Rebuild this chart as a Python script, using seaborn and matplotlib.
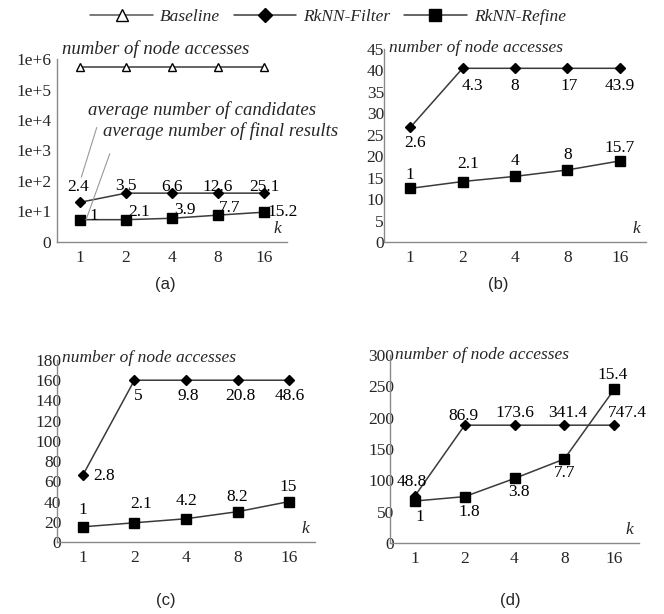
"""Four-panel RkNN query cost chart (node accesses vs k)"""
import matplotlib
matplotlib.use("Agg")
import matplotlib.pyplot as plt
import seaborn as sns
from matplotlib.lines import Line2D
from matplotlib.ticker import FixedLocator, FixedFormatter, NullFormatter

# data
k_labels = ["1", "2", "4", "8", "16"]

a_baseline = [5.5e5, 5.5e5, 5.5e5, 5.5e5, 5.5e5]
a_filter = [20, 40, 40, 40, 40]
a_refine = [5.4, 5.4, 6.0, 7.6, 9.5]
a_filter_lbl = ["2.4", "3.5", "6.6", "12.6", "25.1"]
a_refine_lbl = ["1", "2.1", "3.9", "7.7", "15.2"]

b_filter = [26.7, 40.5, 40.5, 40.5, 40.5]
b_refine = [12.5, 14.1, 15.3, 16.8, 18.9]
b_filter_lbl = ["2.6", "4.3", "8", "17", "43.9"]
b_refine_lbl = ["1", "2.1", "4", "8", "15.7"]

c_filter = [66, 160, 160, 160, 160]
c_refine = [15, 19, 23, 30, 40]
c_filter_lbl = ["2.8", "5", "9.8", "20.8", "48.6"]
c_refine_lbl = ["1", "2.1", "4.2", "8.2", "15"]

d_filter = [75, 188, 188, 188, 188]
d_refine = [67, 74, 103, 134, 245]
d_filter_lbl = ["48.8", "86.9", "173.6", "341.4", "747.4"]
d_refine_lbl = ["1", "1.8", "3.8", "7.7", "15.4"]

SERIF = "Liberation Serif"
LINE = "#3a3a3a"
SPINE = "#8a8a8a"

sns.set_theme(style="white")
plt.rcParams["font.family"] = [SERIF, "DejaVu Serif"]

fig = plt.figure(figsize=(6.64, 6.14), dpi=100)
W, H = 664, 614


def add_axes(left, top, right, bottom):
    return fig.add_axes([left / W, 1 - bottom / H, (right - left) / W, (bottom - top) / H])


ax_a = add_axes(57, 59, 287, 242)
ax_b = add_axes(384, 49, 646, 242)
ax_c = add_axes(57, 360, 315, 542)
ax_d = add_axes(390, 355, 639, 543)


def draw(ax, y, marker, ms, face="black"):
    sns.pointplot(x=k_labels, y=y, ax=ax, color=LINE, markers=marker,
                  linestyles="-", errorbar=None, markersize=ms,
                  linewidth=1.1, markerfacecolor=face, markeredgecolor="black",
                  markeredgewidth=1.0)


def style(ax, yticks, ylabels, ylim, ypad):
    ax.set_ylim(*ylim)
    ax.yaxis.set_major_locator(FixedLocator(yticks))
    ax.yaxis.set_major_formatter(FixedFormatter(ylabels))
    ax.yaxis.set_minor_formatter(NullFormatter())
    ax.set_xlim(-0.5, 4.5)
    ax.set_xticks(range(5))
    ax.set_xticklabels(k_labels)
    ax.set_xticks([0.5, 1.5, 2.5, 3.5, 4.5], minor=True)
    ax.tick_params(axis="x", which="major", length=0, pad=6, labelsize=12.5)
    ax.tick_params(axis="x", which="minor", length=4, color=SPINE, direction="out")
    ax.tick_params(axis="y", which="major", length=4, color=SPINE, direction="out",
                   pad=ypad, labelsize=12.5)
    ax.tick_params(axis="y", which="minor", length=0)
    ax.set_xlabel("")
    ax.set_ylabel("")
    for s in ["top", "right"]:
        ax.spines[s].set_visible(False)
    for s in ["left", "bottom"]:
        ax.spines[s].set_color(SPINE)
        ax.spines[s].set_linewidth(1.0)
    ax.set_facecolor("none")


def labels(ax, y, texts, offsets, ha="center"):
    for i, (v, t, off) in enumerate(zip(y, texts, offsets)):
        ax.annotate(t, xy=(i, v), xytext=off, textcoords="offset pixels",
                    ha=ha, va="center", fontsize=12.5, color="black")


def header(ax, dy, size=12.5):
    ax.annotate("number of node accesses", xy=(0, 1), xycoords="axes fraction",
                xytext=(5, dy), textcoords="offset pixels", ha="left", va="center",
                fontsize=size, style="italic")
    ax.annotate("k", xy=(1, 0), xycoords="axes fraction", xytext=(-10, 13),
                textcoords="offset pixels", ha="center", va="center",
                fontsize=12.5, style="italic")


# (a) log scale
draw(ax_a, a_baseline, "^", 6, face="white")
draw(ax_a, a_filter, "D", 5.5)
draw(ax_a, a_refine, "s", 7.5)
ax_a.set_yscale("log")
style(ax_a, [1, 1e1, 1e2, 1e3, 1e4, 1e5, 1e6],
      ["0", "1e+1", "1e+2", "1e+3", "1e+4", "1e+5", "1e+6"], (1, 1e6), 0)
labels(ax_a, a_filter, a_filter_lbl, [(-2, 15), (0, 7), (0, 6), (0, 6), (0, 6)])
labels(ax_a, a_refine, a_refine_lbl,
       [(14, 4), (13, 8), (13, 8), (12, 7), (19, 0)])
header(ax_a, 10, 13.5)
ax_a.annotate("average number of candidates", xy=(0.03, 135), xytext=(88, H - 110),
              xycoords="data", textcoords="figure pixels", ha="left", va="center",
              fontsize=13.5, style="italic",
              arrowprops=dict(arrowstyle="-", color="#999999", lw=0.8,
                              shrinkA=4, shrinkB=0, relpos=(0.05, 0)))
ax_a.annotate("average number of final results", xy=(0.13, 5.3), xytext=(103, H - 131),
              xycoords="data", textcoords="figure pixels", ha="left", va="center",
              fontsize=13.5, style="italic",
              arrowprops=dict(arrowstyle="-", color="#999999", lw=0.8,
                              shrinkA=8, shrinkB=0, relpos=(0.05, 0)))

# (b)
draw(ax_b, b_filter, "D", 5.5)
draw(ax_b, b_refine, "s", 7.5)
style(ax_b, list(range(0, 46, 5)), [str(v) for v in range(0, 46, 5)], (0, 45), -4)
labels(ax_b, b_filter, b_filter_lbl, [(5, -16), (10, -18), (0, -18), (2, -18), (0, -18)])
labels(ax_b, b_refine, b_refine_lbl, [(0, 13), (6, 18), (0, 15), (0, 15), (0, 13)])
header(ax_b, 1)

# (c)
draw(ax_c, c_filter, "D", 5.5)
draw(ax_c, c_refine, "s", 7.5)
style(ax_c, list(range(0, 181, 20)), [str(v) for v in range(0, 181, 20)], (0, 180), -7)
labels(ax_c, c_filter, c_filter_lbl, [(21, -1), (4, -16), (2, -16), (3, -16), (1, -16)])
labels(ax_c, c_refine, c_refine_lbl, [(0, 17), (7, 19), (1, 18), (0, 15), (-1, 15)])
header(ax_c, 2)

# (d)
draw(ax_d, d_filter, "D", 5.5)
draw(ax_d, d_refine, "s", 7.5)
style(ax_d, list(range(0, 301, 50)), [str(v) for v in range(0, 301, 50)], (0, 300), -7)
labels(ax_d, d_filter, d_filter_lbl, [(-3, 14), (-1, 9), (0, 12), (3, 12), (13, 12)])
labels(ax_d, d_refine, d_refine_lbl, [(5, -16), (5, -15), (4, -14), (0, -14), (-1, 14)])
header(ax_d, 0)

# legend
handles = [
    Line2D([], [], color="#555555", lw=1.1, marker="^", ms=8, mfc="white", mec="black"),
    Line2D([], [], color=LINE, lw=1.1, marker="D", ms=7, mfc="black", mec="black"),
    Line2D([], [], color=LINE, lw=1.1, marker="s", ms=9, mfc="black", mec="black"),
]
fig.legend(handles, ["Baseline", "RkNN-Filter", "RkNN-Refine"], loc="center",
           bbox_to_anchor=(328 / W, 1 - 17 / H), ncol=3, frameon=False,
           handlelength=3.6, handletextpad=0.4, columnspacing=0.8,
           prop={"family": SERIF, "style": "italic", "size": 12.5})

# panel captions
for x, y, t in [(165, 284, "(a)"), (498, 284, "(b)"), (166, 601, "(c)"), (510, 600, "(d)")]:
    fig.text(x / W, 1 - y / H, t, ha="center", va="center", fontsize=12,
             family="Liberation Sans")

plt.savefig("out.png", dpi=100)
plt.close()
